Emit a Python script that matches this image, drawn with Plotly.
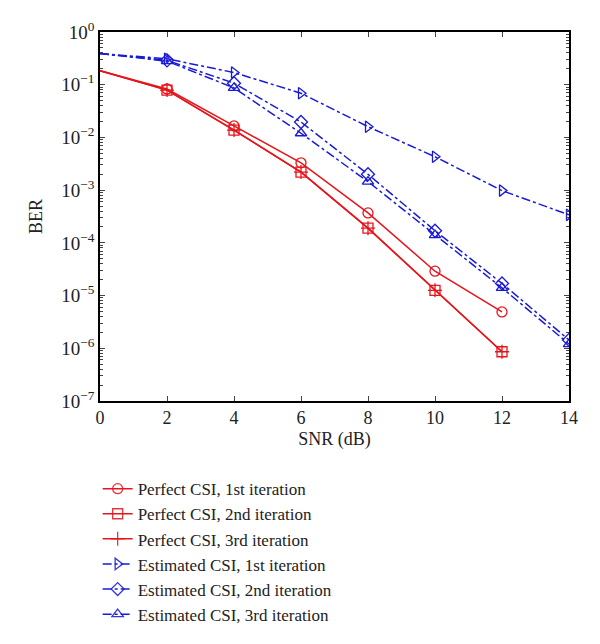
import plotly.graph_objects as go

snr = [0, 2, 4, 6, 8, 10, 12, 14]
snr_perfect = [0, 2, 4, 6, 8, 10, 12]

perfect_1 = [0.185, 0.083, 0.0165, 0.0033, 3.7e-4, 2.9e-5, 4.9e-6]
perfect_2 = [0.185, 0.079, 0.0138, 0.0022, 1.9e-4, 1.26e-5, 8.6e-7]
perfect_3 = [0.185, 0.079, 0.0138, 0.0022, 1.9e-4, 1.26e-5, 8.6e-7]

estimated_1 = [0.39, 0.31, 0.17, 0.069, 0.016, 0.0043, 9.8e-4, 3.4e-4]
estimated_2 = [0.39, 0.29, 0.107, 0.0196, 0.0020, 1.7e-4, 1.7e-5, 1.44e-6]
estimated_3 = [0.39, 0.28, 0.087, 0.012, 0.00145, 1.4e-4, 1.4e-5, 1.2e-6]

names = [
    "Perfect CSI, 1st iteration",
    "Perfect CSI, 2nd iteration",
    "Perfect CSI, 3rd iteration",
    "Estimated CSI, 1st iteration",
    "Estimated CSI, 2nd iteration",
    "Estimated CSI, 3rd iteration",
]

y_tickvals = [1e0, 1e-1, 1e-2, 1e-3, 1e-4, 1e-5, 1e-6, 1e-7]
y_ticktext = ["10<sup>0</sup>", "10<sup>−1</sup>", "10<sup>−2</sup>", "10<sup>−3</sup>",
              "10<sup>−4</sup>", "10<sup>−5</sup>", "10<sup>−6</sup>", "10<sup>−7</sup>"]
x_tickvals = [0, 2, 4, 6, 8, 10, 12, 14]

RED = "#e8141b"
BLUE = "#1a1ad6"

series = [
    (snr_perfect, perfect_1, RED, "solid", "circle-open"),
    (snr_perfect, perfect_2, RED, "solid", "square-open"),
    (snr_perfect, perfect_3, RED, "solid", "cross-thin-open"),
    (snr, estimated_1, BLUE, "dashdot", "triangle-right-open"),
    (snr, estimated_2, BLUE, "dashdot", "diamond-open"),
    (snr, estimated_3, BLUE, "dashdot", "triangle-up-open"),
]

fig = go.Figure()
for (xs, ys, col, dash, sym), nm in zip(series, names):
    # no marker drawn at the SNR = 0 dB start point (as in the reference)
    opac = [0 if x == 0 else 1 for x in xs]
    fig.add_trace(go.Scatter(
        x=xs, y=ys, name=nm, mode="lines+markers",
        line=dict(color=col, width=1.5, dash=dash),
        marker=dict(symbol=sym, size=10, color=col, opacity=opac,
                    line=dict(color=col, width=1.3)),
    ))

font = dict(family="Liberation Serif, Times New Roman, serif", size=18, color="#222")

fig.update_layout(
    width=600, height=644,
    margin=dict(l=92, r=39, t=24, b=251),
    paper_bgcolor="white", plot_bgcolor="white",
    font=font,
    showlegend=True,
    legend=dict(x=-0.005, y=-0.19, xanchor="left", yanchor="top",
                bgcolor="rgba(0,0,0,0)", font=dict(size=17), tracegroupgap=0),
)
fig.update_xaxes(
    range=[0, 14], tickvals=x_tickvals, ticks="inside", ticklen=5,
    showline=True, linecolor="black", linewidth=1.5, mirror="ticks",
    showgrid=False, zeroline=False, tickfont=dict(size=18),
    title=dict(text="SNR (dB)", standoff=5, font=dict(size=18)),
)
fig.update_yaxes(
    type="log", range=[-7, 0], tickvals=y_tickvals, ticktext=y_ticktext,
    ticks="inside", ticklen=5,
    minor=dict(ticks="inside", ticklen=3, dtick="D1", showgrid=False),
    showline=True, linecolor="black", linewidth=1.5, mirror="ticks",
    showgrid=False, zeroline=False, tickfont=dict(size=19),
    title=dict(text="BER", standoff=14, font=dict(size=18)),
)

fig.write_html("out.html")
